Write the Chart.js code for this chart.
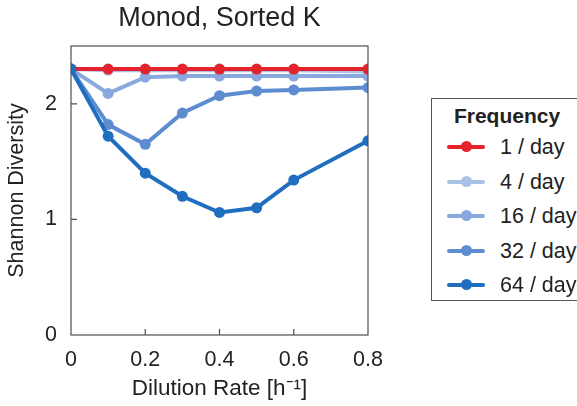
<!DOCTYPE html>
<html>
<head>
<meta charset="utf-8">
<script src="https://cdn.jsdelivr.net/npm/chart.js@4"></script>
<style>
  html, body { margin: 0; padding: 0; background: #fff; overflow: hidden; }
  #wrap { position: relative; width: 577px; height: 406px; }
  #legend {
    position: absolute; left: 431px; top: 98px; width: 152px; height: 203px;
    border: 1px solid #555; background: #fff; box-sizing: border-box;
    font-family: "Liberation Sans", Arial, sans-serif; color: #222;
  }
  #legend .title { font-weight: bold; font-size: 21px; text-align: center; margin-top: 5px; height: 24px; line-height: 24px; }
  #legend .item { position: relative; height: 34.5px; line-height: 34.5px; font-size: 21.5px; white-space: nowrap; }
  #legend .mark { position: absolute; left: 15px; top: 15px; width: 38px; height: 4px; border-radius: 2px; }
  #legend .dot { position: absolute; left: 14px; top: -4px; width: 11px; height: 11px; border-radius: 50%; }
  #legend .lbl { position: absolute; left: 68px; }
</style>
</head>
<body>
<div id="wrap">
  <canvas id="diversityChart" width="577" height="406"></canvas>
  <div id="legend"><div class="title">Frequency</div><div id="items" style="margin-top:2px"></div></div>
</div>
<script>
// dilution rates [1/h]
const dilution = [0, 0.1, 0.2, 0.3, 0.4, 0.5, 0.6, 0.8];

// Shannon diversity per pulse frequency
const perDay1  = [2.30, 2.30, 2.30, 2.30, 2.30, 2.30, 2.30, 2.30];
const perDay4  = [2.30, 2.29, 2.29, 2.29, 2.29, 2.29, 2.29, 2.28];
const perDay16 = [2.30, 2.09, 2.23, 2.24, 2.24, 2.24, 2.24, 2.24];
const perDay32 = [2.30, 1.82, 1.65, 1.92, 2.07, 2.11, 2.12, 2.14];
const perDay64 = [2.30, 1.72, 1.40, 1.20, 1.06, 1.10, 1.34, 1.68];

const freqLabels = ['1 / day', '4 / day', '16 / day', '32 / day', '64 / day'];
const freqColors = ['#e5232d', '#a9c0e7', '#89a9de', '#5d8cd0', '#1f6ebf'];
const freqValues = [perDay1, perDay4, perDay16, perDay32, perDay64];
// draw order: lower on top (64/day dot sits over the start point)
const drawOrder = [1, 4, 3, 2, 0];

const xTicks = [0, 0.2, 0.4, 0.6, 0.8];
const yTicks = [0, 1, 2];

const FONT = '"Liberation Sans", Arial, sans-serif';

const datasets = freqValues.map((vals, i) => ({
  label: freqLabels[i],
  data: vals.map((v, j) => ({ x: dilution[j], y: v })),
  borderColor: freqColors[i],
  backgroundColor: freqColors[i],
  pointBackgroundColor: freqColors[i],
  pointBorderWidth: 0,
  borderWidth: 4,
  pointRadius: 5.5,
  tension: 0,
  order: drawOrder[i]
}));

// box around the axes plus inward-pointing tick marks
const axesBox = {
  id: 'axesBox',
  afterLayout(chart) {
    // center the title over the plot area rather than the whole canvas
    if (chart.titleBlock) {
      chart.titleBlock.left = chart.chartArea.left;
      chart.titleBlock.right = chart.chartArea.right;
    }
  },
  afterDraw(chart) {
    const { ctx, chartArea: a, scales } = chart;
    ctx.save();
    ctx.strokeStyle = '#4f4f4f';
    ctx.lineWidth = 1.2;
    ctx.strokeRect(a.left, a.top, a.right - a.left, a.bottom - a.top);
    ctx.beginPath();
    xTicks.slice(1, -1).forEach(v => {
      const px = scales.x.getPixelForValue(v);
      ctx.moveTo(px, a.bottom); ctx.lineTo(px, a.bottom - 6);
    });
    yTicks.slice(1).forEach(v => {
      const py = scales.y.getPixelForValue(v);
      ctx.moveTo(a.left, py); ctx.lineTo(a.left + 6, py);
    });
    ctx.stroke();
    ctx.restore();
  }
};

new Chart(document.getElementById('diversityChart'), {
  type: 'line',
  data: { datasets },
  plugins: [axesBox],
  options: {
    responsive: false,
    animation: false,
    layout: { padding: { top: 0, right: 209, bottom: 0, left: 0 } },
    plugins: {
      legend: { display: false },
      tooltip: { enabled: false },
      title: {
        display: true,
        text: 'Monod, Sorted K',
        color: '#222',
        font: { family: FONT, size: 27, weight: 'normal' },
        padding: { top: 2, bottom: 11.6 }
      }
    },
    scales: {
      x: {
        type: 'linear',
        min: 0, max: 0.8,
        afterFit(s) { s.height = 71; },
        afterBuildTicks(s) { s.ticks = xTicks.map(v => ({ value: v })); },
        grid: { display: false, drawTicks: false },
        border: { display: false },
        ticks: { color: '#222', padding: 12, font: { family: FONT, size: 21.5 }, callback: v => String(+v.toFixed(1)) },
        title: { display: true, text: 'Dilution Rate [h⁻¹]', color: '#222', padding: { top: 7 }, font: { family: FONT, size: 22.5 } }
      },
      y: {
        min: 0, max: 2.5,
        afterFit(s) { s.width = 71; },
        afterBuildTicks(s) { s.ticks = yTicks.map(v => ({ value: v })); },
        grid: { display: false, drawTicks: false },
        border: { display: false },
        ticks: { color: '#222', padding: 14, font: { family: FONT, size: 21.5 } },
        title: { display: true, text: 'Shannon Diversity', color: '#222', padding: { bottom: 2 }, font: { family: FONT, size: 21.5 } }
      }
    }
  }
});

// legend entries from the same series
const items = document.getElementById('items');
freqLabels.forEach((lab, i) => {
  const row = document.createElement('div');
  row.className = 'item';
  row.innerHTML = '<span class="mark" style="background:' + freqColors[i] + '"><span class="dot" style="background:' + freqColors[i] + '"></span></span><span class="lbl">' + lab + '</span>';
  items.appendChild(row);
});
</script>
</body>
</html>
